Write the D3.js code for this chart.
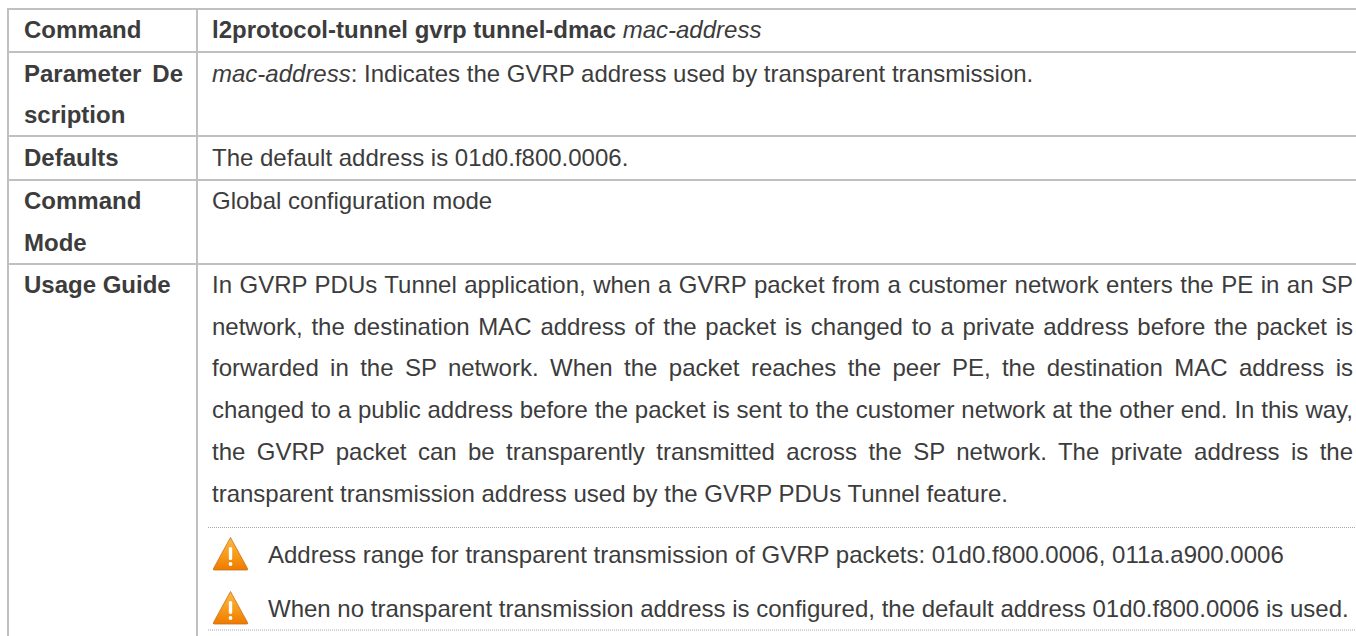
<!DOCTYPE html>
<html lang="en">
<head>
  <meta charset="UTF-8">
  <title>GVRP tunnel command</title>
  <script src="https://d3js.org/d3.v7.min.js"></script>
  <style>
    html, body { margin: 0; padding: 0; background: #fff; overflow: hidden; }
    svg { display: block; }
    text { font-family: "Liberation Sans", Arial, sans-serif; font-size: 24px; fill: #3c3c3c; }
  </style>
</head>
<body>
  <svg id="chart" width="1356" height="636"></svg>
  <script>
    // table contents
    const rowLabels = [
      ["Command"],
      ["Parameter De", "scription"],
      ["Defaults"],
      ["Command", "Mode"],
      ["Usage Guide"]
    ];
    const usageLines = [
      "In GVRP PDUs Tunnel application, when a GVRP packet from a customer network enters the PE in an SP",
      "network, the destination MAC address of the packet is changed to a private address before the packet is",
      "forwarded in the SP network. When the packet reaches the peer PE, the destination MAC address is",
      "changed to a public address before the packet is sent to the customer network at the other end. In this way,",
      "the GVRP packet can be transparently transmitted across the SP network. The private address is the",
      "transparent transmission address used by the GVRP PDUs Tunnel feature."
    ];
    const notes = [
      "Address range for transparent transmission of GVRP packets: 01d0.f800.0006, 011a.a900.0006",
      "When no transparent transmission address is configured, the default address 01d0.f800.0006 is used."
    ];

    const svg = d3.select("#chart");
    const grid = "#c0c0c0";
    const colX = [8, 197];
    const rowY = [9, 52, 136, 180, 264];
    const lineH = 41.7;
    const textX = 212;

    // stretch a line's word gaps so it ends at the given x
    function justify(el, x0, x1) {
      const gaps = el.text().split(" ").length - 1;
      const extra = x1 - x0 - el.node().getComputedTextLength();
      el.style("word-spacing", (extra / gaps) + "px");
    }

    // gradient for warning icons
    const grad = svg.append("defs").append("linearGradient")
      .attr("id", "warn").attr("x1", 0).attr("y1", 0).attr("x2", 0).attr("y2", 1);
    grad.append("stop").attr("offset", "0").attr("stop-color", "#fbb84a");
    grad.append("stop").attr("offset", "0.55").attr("stop-color", "#f79a17");
    grad.append("stop").attr("offset", "1").attr("stop-color", "#ee7a00");

    // grid lines, table runs off the right edge
    svg.append("g").selectAll("line").data(rowY).join("line")
      .attr("x1", colX[0] - 1).attr("x2", 1356)
      .attr("y1", d => d).attr("y2", d => d)
      .attr("stroke", grid).attr("stroke-width", 2);
    svg.append("g").selectAll("line").data(colX).join("line")
      .attr("x1", d => d).attr("x2", d => d)
      .attr("y1", rowY[0] - 1).attr("y2", 636)
      .attr("stroke", grid).attr("stroke-width", 2);

    // left column
    const labelBase = [38, 81.5, 166, 209, 293];
    rowLabels.forEach((lines, i) => {
      lines.forEach((t, j) => {
        const el = svg.append("text")
          .attr("x", 24).attr("y", labelBase[i] + j * 41.5)
          .style("font-weight", "bold")
          .text(t);
        if (lines.length > 1 && j === 0 && t.includes(" ")) justify(el, 24, 183);
      });
    });

    // right column, first rows
    const cmd = svg.append("text").attr("x", textX).attr("y", labelBase[0]);
    cmd.append("tspan").style("font-weight", "bold").text("l2protocol-tunnel gvrp tunnel-dmac ");
    cmd.append("tspan").style("font-style", "italic").text("mac-address");

    const par = svg.append("text").attr("x", textX).attr("y", labelBase[1]);
    par.append("tspan").style("font-style", "italic").text("mac-address");
    par.append("tspan").text(": Indicates the GVRP address used by transparent transmission.");

    svg.append("text").attr("x", textX).attr("y", labelBase[2]).text("The default address is 01d0.f800.0006.");
    svg.append("text").attr("x", textX).attr("y", labelBase[3]).text("Global configuration mode");

    // justified usage guide text
    const rightEdge = 1353;
    usageLines.forEach((t, i) => {
      const el = svg.append("text").attr("x", textX).attr("y", labelBase[4] + i * lineH).text(t);
      if (i < usageLines.length - 1) justify(el, textX, rightEdge);
    });

    // dotted rules around the notes
    const dotY = [527.5, 630];
    svg.append("g").selectAll("line").data(dotY).join("line")
      .attr("x1", 208).attr("x2", 1356)
      .attr("y1", d => d).attr("y2", d => d)
      .attr("stroke", "#a8a8a8").attr("stroke-width", 1)
      .attr("stroke-dasharray", "1 1");

    // warning notes
    const noteY = [562.5, 616.5];
    notes.forEach((t, i) => {
      const g = svg.append("g").attr("transform", `translate(230.5,${noteY[i] - 25})`);
      g.append("path").attr("d", "M0,0 L-17,31 Q-18,32.5 -16,32.5 L16,32.5 Q18,32.5 17,31 Z")
        .attr("fill", "url(#warn)").attr("stroke", "#c9701c").attr("stroke-width", 0.8);
      g.append("rect").attr("x", -1.7).attr("y", 9.5).attr("width", 3.4).attr("height", 13).attr("rx", 1.6).attr("fill", "#fff");
      g.append("circle").attr("cy", 26.5).attr("r", 1.9).attr("fill", "#fff");
      svg.append("text").attr("x", 268).attr("y", noteY[i]).text(t);
    });
  </script>
</body>
</html>
